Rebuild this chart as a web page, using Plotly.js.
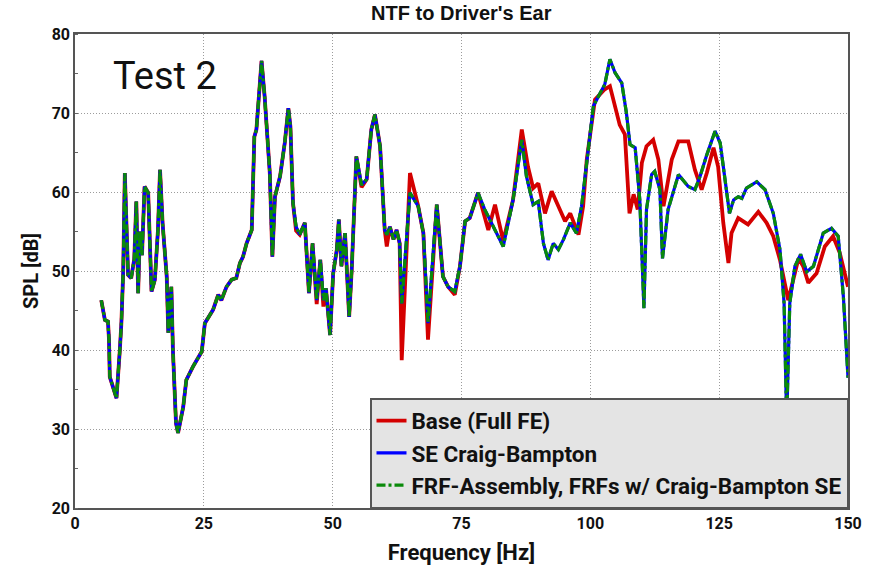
<!DOCTYPE html>
<html>
<head>
<meta charset="utf-8">
<script src="https://cdn.plot.ly/plotly-3.0.1.min.js"></script>
<style>html,body{margin:0;padding:0;background:#fff;}#chart{width:877px;height:568px;}</style>
</head>
<body>
<div id="chart"></div>
<script>
// Frequency [Hz] and SPL [dB] for the SE Craig-Bampton / FRF-Assembly results
const freqCB = [5.1,5.8,6.4,6.6,6.75,7.4,8.05,8.7,9.0,9.35,9.67,10.3,10.9,11.5,11.9,12.25,12.6,13.0,13.5,14.2,14.85,15.5,16.1,16.5,17.0,17.8,18.1,18.7,19.0,19.6,20.0,21.0,21.6,22.9,24.6,25.2,26.8,27.8,28.4,29.4,30.4,31.3,32.0,32.6,33.3,34.3,34.8,35.2,36.2,36.8,37.8,38.3,38.8,39.8,40.7,41.4,41.8,42.3,42.9,43.6,44.6,45.4,46.1,46.9,47.6,48.2,48.7,49.5,50.1,50.8,51.2,51.7,52.4,53.2,53.7,54.6,55.6,56.6,57.5,58.2,59.2,60.1,60.5,61.1,61.8,62.4,63.0,63.4,65.0,66.6,67.6,68.5,70.2,71.4,72.4,73.7,74.7,75.7,76.6,78.2,79.5,81.5,83.1,85.0,86.7,87.6,88.9,89.9,90.9,91.8,92.8,93.8,94.8,96.1,97.3,98.3,99.3,100.6,101.9,102.8,103.8,104.8,106.1,107.0,107.7,108.7,109.6,110.4,110.9,111.9,112.5,113.5,114.0,115.1,117.1,119.0,120.3,121.3,122.6,124.2,125.2,126.1,127.0,127.8,128.7,129.4,130.3,132.3,133.9,135.5,136.8,137.6,138.1,138.7,139.7,140.8,142.0,143.3,145.2,146.8,148.1,149.1,150.0];
const splCB = [46.3,43.8,43.6,41.3,36.6,35.4,33.9,40.0,43.4,49.8,62.4,49.5,49.1,51.5,58.8,47.2,55.0,52.0,60.7,59.9,47.4,48.9,55.2,62.8,56.0,49.3,42.2,48.0,40.0,30.7,29.5,32.8,36.2,37.9,39.8,43.4,45.1,47.0,46.3,48.0,48.9,49.1,51.0,51.8,53.5,55.2,67.0,67.9,76.6,72.1,62.4,51.8,59.4,62.0,66.2,70.6,68.3,58.6,55.6,54.6,56.1,47.2,53.5,46.3,51.4,46.3,47.8,41.9,49.7,52.7,56.5,50.6,54.8,44.2,50.2,64.5,60.9,61.6,67.9,69.8,65.8,55.2,54.6,55.6,54.0,55.2,53.5,45.9,59.9,58.2,54.8,43.4,58.4,49.3,48.0,47.4,50.6,56.3,56.7,59.9,57.8,55.2,53.1,59.0,66.6,62.0,58.4,58.8,53.5,51.4,53.5,52.7,54.0,56.1,54.8,58.2,64.1,70.9,72.5,73.6,76.8,75.1,73.8,70.0,66.0,65.6,59.0,45.3,57.8,62.2,62.6,60.3,51.6,57.8,62.2,60.7,60.3,62.0,64.7,67.7,66.2,61.6,57.3,59.0,59.4,59.2,60.5,61.3,60.3,57.3,52.7,45.9,31.0,45.9,50.6,52.1,49.9,50.6,54.8,55.4,54.4,46.8,36.5];
const splFRF = [46.3,43.8,43.6,41.3,36.6,35.4,33.9,40.0,43.4,49.8,62.4,49.5,49.1,51.5,58.8,47.2,55.0,52.0,60.7,59.9,47.4,48.9,55.2,62.8,56.0,49.3,42.2,48.0,40.0,30.7,29.5,32.8,36.2,37.9,39.8,43.4,45.1,47.0,46.3,48.0,48.9,49.1,51.0,51.8,53.5,55.2,67.0,67.9,76.6,72.1,62.4,51.8,59.4,62.0,66.2,70.6,68.3,58.6,55.6,54.6,56.1,47.2,53.5,46.3,51.4,46.3,47.8,41.9,49.7,52.7,56.5,50.6,54.8,44.2,50.2,64.5,60.9,61.6,67.9,69.8,65.8,55.2,54.6,55.6,54.0,55.2,53.5,45.9,59.9,58.2,54.8,43.4,58.4,49.3,48.0,47.4,50.6,56.3,56.7,59.9,57.8,55.2,53.1,59.0,66.6,62.0,58.4,58.8,53.5,51.4,53.5,52.7,54.0,56.1,54.8,58.2,64.1,70.9,72.5,73.6,76.8,75.1,73.8,70.0,66.0,65.6,59.0,45.3,57.8,62.2,62.6,60.3,51.6,57.8,62.2,60.7,60.3,62.0,64.7,67.7,66.2,61.6,57.3,59.0,59.4,59.2,60.5,61.3,60.3,57.3,52.7,45.9,31.0,45.9,50.6,52.1,49.9,50.6,54.8,55.4,54.4,46.8,36.5];

// Base (Full FE)
const freqBase = [5.1,5.8,6.4,6.6,6.75,7.4,8.05,8.7,9.0,9.35,9.67,10.3,10.9,11.5,11.9,12.25,12.6,13.0,13.5,14.2,14.85,15.5,16.1,16.5,17.0,17.8,18.1,18.7,19.0,19.6,20.0,21.0,21.6,22.9,24.6,25.2,26.8,27.8,28.4,29.4,30.4,31.3,32.0,32.6,33.3,34.3,34.8,35.2,36.2,36.8,37.8,38.3,38.8,39.8,40.7,41.4,41.8,42.3,42.9,43.6,44.6,45.4,46.1,46.9,47.6,48.2,48.7,49.5,50.1,50.8,51.2,51.7,52.4,53.2,53.7,54.6,55.6,56.6,57.5,58.2,59.2,60.1,60.5,61.1,61.8,62.4,63.0,63.4,65.0,66.6,67.6,68.5,70.2,71.4,72.4,73.7,74.7,75.7,76.6,78.2,80.2,81.5,83.1,85.0,86.7,87.9,88.9,89.9,91.2,92.5,93.8,95.1,96.1,97.7,98.6,99.3,100.9,102.8,103.8,104.8,105.7,106.7,107.6,108.4,109.2,110.0,110.9,112.2,113.2,114.2,115.8,117.1,119.0,120.3,121.6,122.6,123.9,124.8,125.8,126.8,127.4,128.7,130.6,132.6,134.2,135.5,136.8,138.4,139.4,140.4,141.3,142.3,143.9,145.5,147.1,148.4,150.0];
const splBase = [46.3,43.8,43.6,41.3,36.6,35.4,33.9,40.0,43.4,49.8,62.4,49.5,49.1,51.5,58.8,47.2,55.0,52.0,60.7,59.9,47.4,48.9,55.2,62.8,56.0,49.3,42.2,48.0,40.0,30.7,29.5,32.8,36.2,37.9,39.8,43.4,45.1,47.0,46.3,48.0,48.9,49.1,51.0,51.8,53.5,55.2,67.0,67.9,76.6,72.1,62.4,51.8,59.4,62.0,66.2,70.6,68.3,58.6,55.1,54.6,56.1,47.2,53.5,45.8,51.4,45.5,47.8,41.9,49.7,52.7,56.5,50.6,54.8,44.2,50.2,64.5,60.6,61.6,67.9,69.8,65.8,55.2,53.1,55.6,54.0,55.2,53.5,38.7,62.4,58.2,54.8,41.3,58.4,49.3,48.0,47.0,50.6,56.3,56.7,59.9,55.2,58.4,53.8,59.0,67.9,63.2,60.5,61.1,57.3,60.1,58.2,56.3,57.3,54.6,58.2,64.1,71.7,73.0,73.4,70.9,68.5,67.3,57.3,59.7,57.8,63.7,65.8,66.6,64.1,58.2,64.1,66.4,66.4,62.8,60.3,62.4,65.6,63.2,56.1,51.0,54.8,56.7,55.9,57.5,56.1,54.4,51.4,46.3,48.9,51.6,50.6,48.5,49.7,53.1,54.4,52.3,48.0];

const seriesNames = ["Base (Full FE)", "SE Craig-Bampton", "FRF-Assembly, FRFs w/ Craig-Bampton SE"];
const xTickVals = [0,25,50,75,100,125,150];
const yTickVals = [20,30,40,50,60,70,80];

const traces = [
  {x: freqBase, y: splBase, name: seriesNames[0], mode: "lines",
   line: {color: "#d40000", width: 3.8}},
  {x: freqCB, y: splCB, name: seriesNames[1], mode: "lines",
   line: {color: "#0000ff", width: 3.2}},
  {x: freqCB, y: splFRF, name: seriesNames[2], mode: "lines",
   line: {color: "#0a8a0a", width: 3.2, dash: "9px,3px,3px,3px"}}
];

const axisFont = {family: "Roboto, Arial, sans-serif", size: 16, color: "#111", weight: "bold"};

const layout = {
  width: 877, height: 568,
  margin: {l: 75, r: 29, t: 34, b: 60},
  paper_bgcolor: "#ffffff", plot_bgcolor: "#ffffff",
  title: {text: "NTF to Driver's Ear", x: 0.526, xanchor: "center", y: 0.977, yanchor: "middle",
          font: {family: "Liberation Sans Narrow, Arial Narrow, sans-serif", size: 20, color: "#111", weight: "bold"}},
  xaxis: {range: [0, 150], tickvals: xTickVals, ticktext: xTickVals.map(String),
          showgrid: true, gridcolor: "#9c9c9c", griddash: "1px,2px", gridwidth: 1,
          showline: true, linecolor: "#555", linewidth: 1.8, mirror: true,
          ticks: "", zeroline: false, tickfont: axisFont,
          title: {text: "Frequency [Hz]", standoff: 12,
                  font: {family: "Roboto, Arial, sans-serif", size: 22, color: "#111", weight: "bold"}}},
  yaxis: {range: [20, 80], tickvals: yTickVals, ticktext: yTickVals.map(String),
          showgrid: true, gridcolor: "#9c9c9c", griddash: "1px,2px", gridwidth: 1,
          showline: true, linecolor: "#555", linewidth: 1.8, mirror: true,
          ticks: "", zeroline: false, tickfont: axisFont,
          minor: {dtick: 5, ticks: "inside", ticklen: 3, tickcolor: "#666", showgrid: false},
          title: {text: "SPL [dB]", standoff: 8,
                  font: {family: "Roboto, Arial, sans-serif", size: 20, color: "#111", weight: "bold"}}},
  legend: {x: 1, xanchor: "right", y: 0, yanchor: "bottom",
           bgcolor: "#e4e4e4", bordercolor: "#555", borderwidth: 1.5,
           font: {family: "Roboto, Arial, sans-serif", size: 22.5, color: "#111", weight: "bold"},
           itemwidth: 30, tracegroupgap: 0},
  annotations: [{text: "Test 2", xref: "paper", yref: "paper", x: 0.046, y: 0.912,
                 xanchor: "left", yanchor: "middle", showarrow: false,
                 font: {family: "Roboto, Arial, sans-serif", size: 38, color: "#111"}}],
  showlegend: true
};

Plotly.newPlot("chart", traces, layout, {displayModeBar: false, staticPlot: true});
</script>
</body>
</html>
